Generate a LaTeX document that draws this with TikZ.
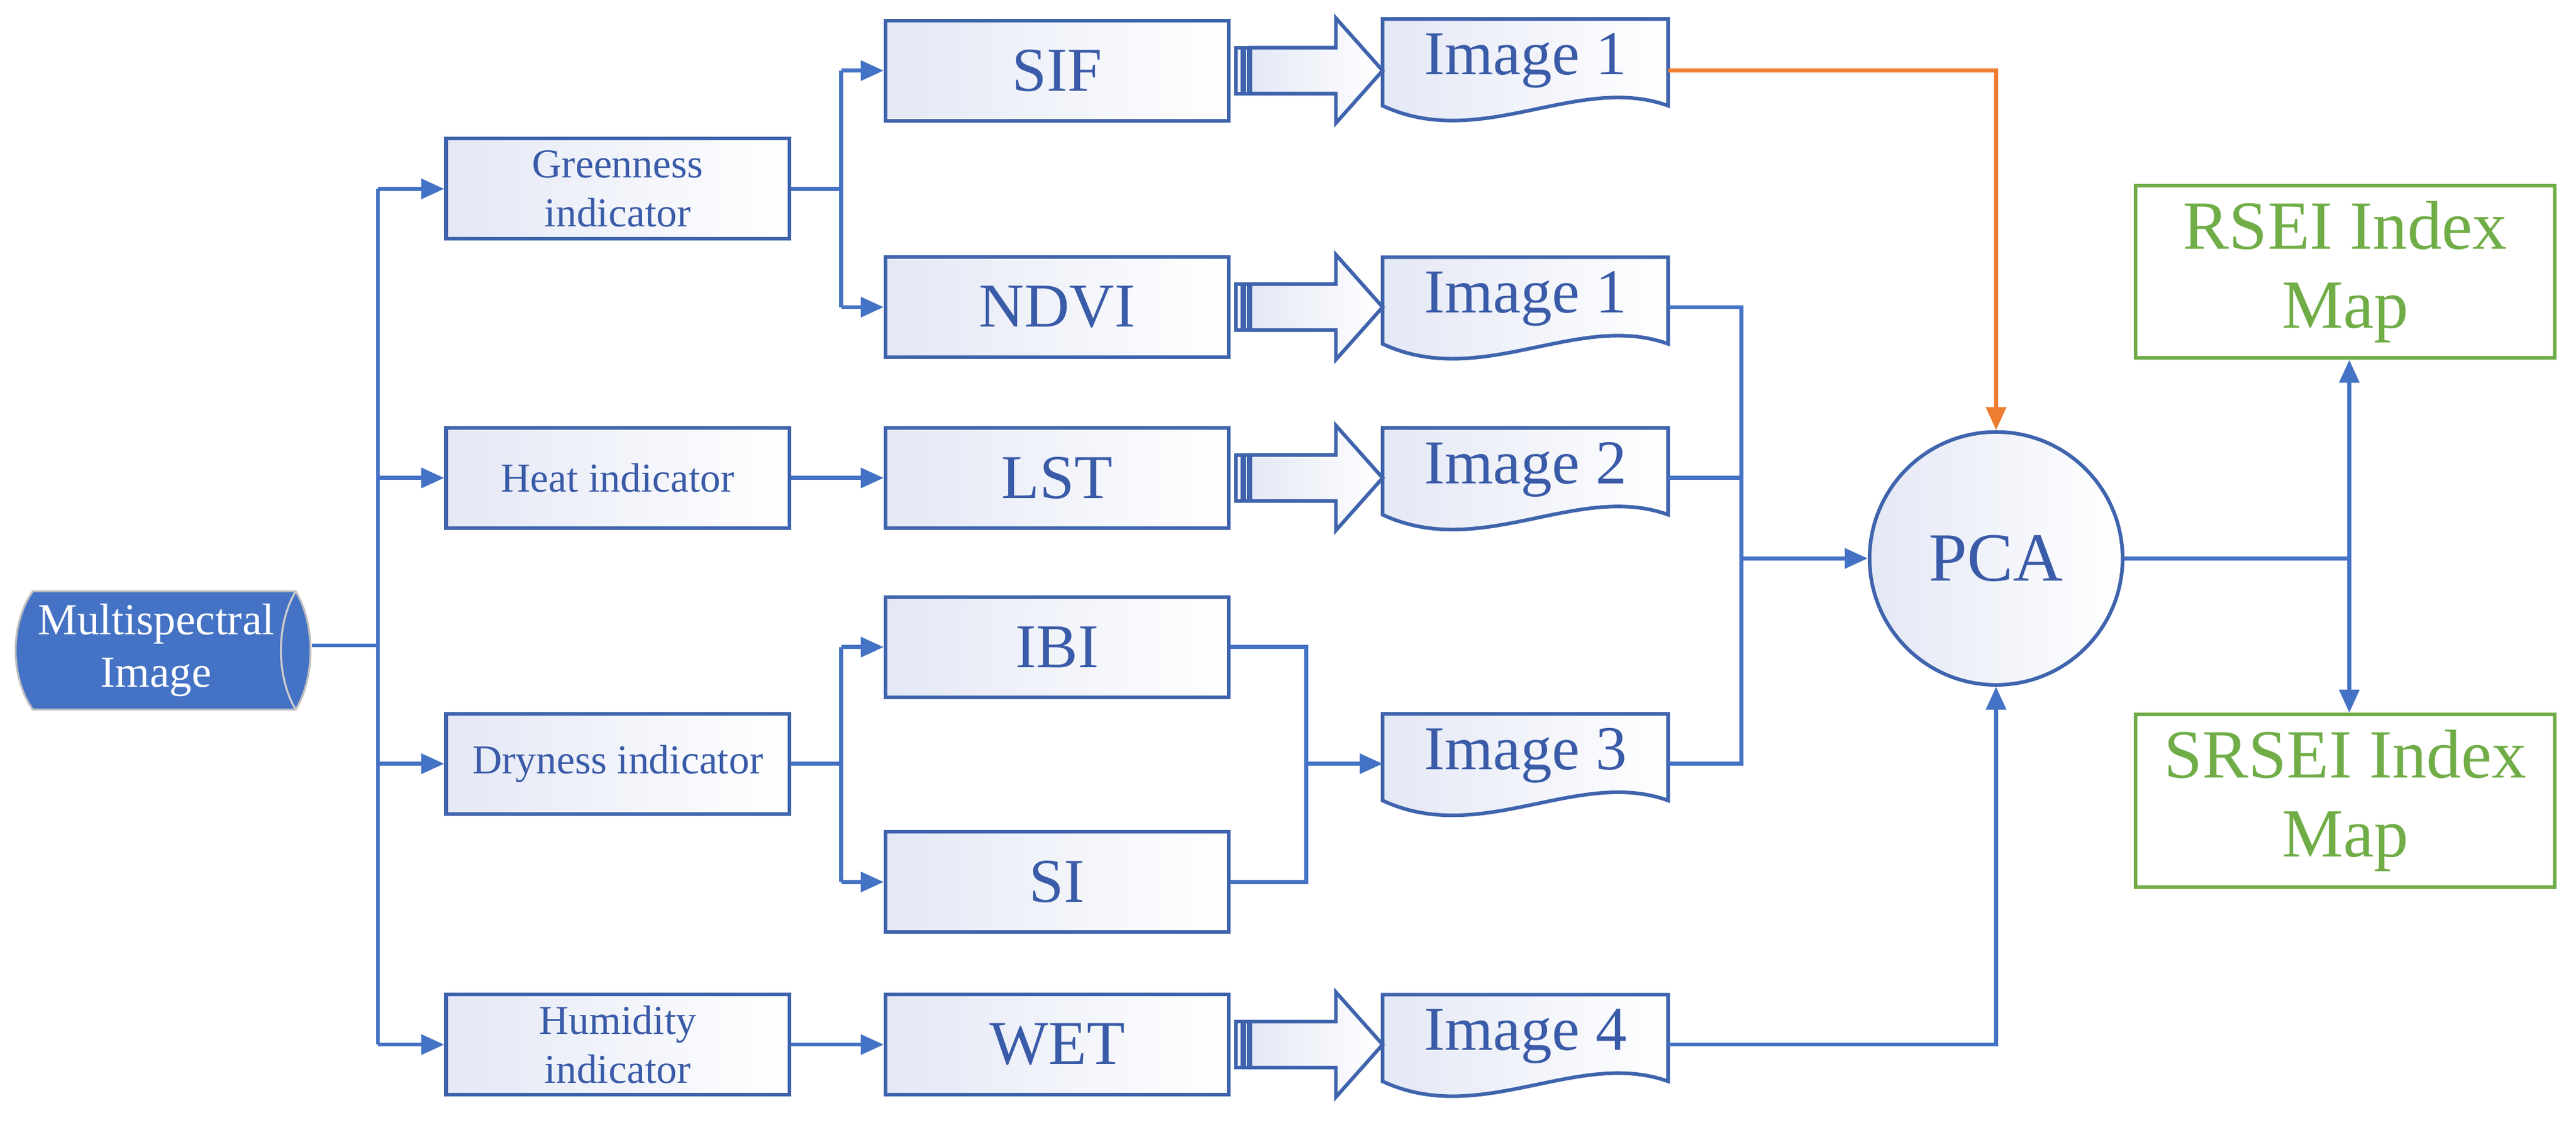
\documentclass[tikz,border=0pt]{standalone}
\usepackage{fontspec}
\setmainfont{Liberation Serif}
\usetikzlibrary{arrows.meta,calc,backgrounds}
\definecolor{bord}{HTML}{3F64AD}
\definecolor{txt}{HTML}{3A5BA8}
\definecolor{lnc}{HTML}{4472C4}
\definecolor{boxfill}{HTML}{E4E8F5}
\definecolor{grn}{HTML}{70AD47}
\definecolor{org}{HTML}{ED7D31}
\begin{document}
\begin{tikzpicture}[x=0.5pt,y=-0.5pt,
 box/.style={draw=bord,line width=1.1pt,left color=boxfill,right color=white,minimum width=104.5pt,minimum height=30.5pt,inner sep=1pt,font=\fontsize{19}{21}\selectfont,text=txt,align=center},
 ind/.style={box,font=\fontsize{12.5}{15}\selectfont},
 doc/.style={minimum width=86.5pt,minimum height=25pt,inner sep=1pt,font=\fontsize{19}{21}\selectfont,text=txt},
 outbox/.style={draw=grn,line width=1.1pt,fill=white,minimum width=127.5pt,minimum height=52.5pt,font=\fontsize{21}{24}\selectfont,text=grn,align=center},
 ln/.style={draw=lnc,line width=1.2pt},
 arr/.style={ln,-{Triangle[length=7pt,width=6pt]}},
 blk/.style={draw=bord,line width=1.1pt,left color=boxfill,right color=white}]
\useasboundingbox (0,0) rectangle (1568,688);
% cylinder
\fill[lnc,draw=gray!50,line width=0.6pt] (20,360) -- (180,360) .. controls (192,380) and (192,412) .. (180,432) -- (20,432) .. controls (6,412) and (6,380) .. (20,360) -- cycle;
\draw[gray!40,line width=0.6pt] (180,360) .. controls (168,380) and (168,412) .. (180,432);
\node[text=white,font=\fontsize{13.5}{16}\selectfont,align=center] (ms) at (95,396) {Multispectral\\Image};
\coordinate (msr) at (190,393);
% indicators
\node[ind] (gi) at (376,115) {Greenness\\indicator};
\node[ind] (hi) at (376,291) {Heat indicator};
\node[ind] (di) at (376,465) {Dryness indicator};
\node[ind] (ui) at (376,636) {Humidity\\indicator};
% second column
\node[box] (sif) at (643.5,43) {SIF};
\node[box] (ndvi) at (643.5,187) {NDVI};
\node[box] (lst) at (643.5,291) {LST};
\node[box] (ibi) at (643.5,394) {IBI};
\node[box] (si) at (643.5,537) {SI};
\node[box] (wet) at (643.5,636) {WET};
% images
\node[doc] (im1) at (928.5,37) {Image 1};
\node[doc] (im1b) at (928.5,182) {Image 1};
\node[doc] (im2) at (928.5,286) {Image 2};
\node[doc] (im3) at (928.5,460) {Image 3};
\node[doc] (im4) at (928.5,631) {Image 4};
\begin{scope}[on background layer]
\foreach \n in {im1,im1b,im2,im3,im4}{
 \path[blk] (\n.north west) -- (\n.north east) -- ($(\n.south east)+(0,2)$) .. controls ($(\n.south east)+(-55,-18)$) and ($(\n.south west)+(60,30)$) .. ($(\n.south west)+(0,2)$) -- cycle;}
\end{scope}
% block arrows
\foreach \a/\b in {sif/im1,ndvi/im1b,lst/im2,wet/im4}{
 \path[blk] ($(\a.east)+(3,-14)$) rectangle ($(\a.east)+(7,14)$);
 \path[blk] ($(\a.east)+(8,-14)$) rectangle ($(\a.east)+(11,14)$);
 \path[blk] ($(\a.east)+(12,-14)$) -- ($(\a.east)+(64,-14)$) -- ($(\a.east)+(64,-32)$) -- (\b.west |- \a.east) -- ($(\a.east)+(64,32)$) -- ($(\a.east)+(64,14)$) -- ($(\a.east)+(12,14)$) -- cycle;}
% PCA
\node[circle,draw=bord,line width=1.1pt,left color=boxfill,right color=white,minimum size=77pt,font=\fontsize{21}{24}\selectfont,text=txt] (pca) at (1215,340) {PCA};
\node[outbox] (rsei) at (1427.5,165.5) {RSEI Index\\Map};
\node[outbox] (srsei) at (1427.5,487.5) {SRSEI Index\\Map};
% connectors
\coordinate (tr) at (230,393);
\draw[ln] (msr) -- (tr);
\draw[ln] (230,115) -- (230,636);
\foreach \t in {gi,hi,di,ui}{\draw[arr] (230,0 |- \t.west) -- (\t.west);}
\draw[ln] (gi.east) -- (512,115);
\draw[ln] (512,43) -- (512,187);
\draw[arr] (512,43) -- (sif.west);
\draw[arr] (512,187) -- (ndvi.west);
\draw[arr] (hi.east) -- (lst.west);
\draw[ln] (di.east) -- (512,465);
\draw[ln] (512,394) -- (512,537);
\draw[arr] (512,394) -- (ibi.west);
\draw[arr] (512,537) -- (si.west);
\draw[arr] (ui.east) -- (wet.west);
\draw[ln] (ibi.east) -- (795,394) -- (795,537) -- (si.east);
\draw[arr] (795,465) -- (im3.west |- 0,465);
\draw[org,line width=1.2pt,-{Triangle[length=7pt,width=6pt]}] (im1.east |- 0,43) -- (1215,43) -- (pca.north);
\draw[ln] (im1b.east |- 0,187) -- (1060,187) -- (1060,465) -- (im3.east |- 0,465);
\draw[ln] (im2.east |- 0,291) -- (1060,291);
\draw[arr] (1060,340) -- (pca.west);
\draw[arr] (im4.east |- 0,636) -- (1215,636) -- (pca.south);
\draw[ln] (pca.east) -- (1430,340);
\draw[arr] (1430,340) -- (rsei.south -| 1430,0);
\draw[arr] (1430,340) -- (srsei.north -| 1430,0);
\end{tikzpicture}
\end{document}
